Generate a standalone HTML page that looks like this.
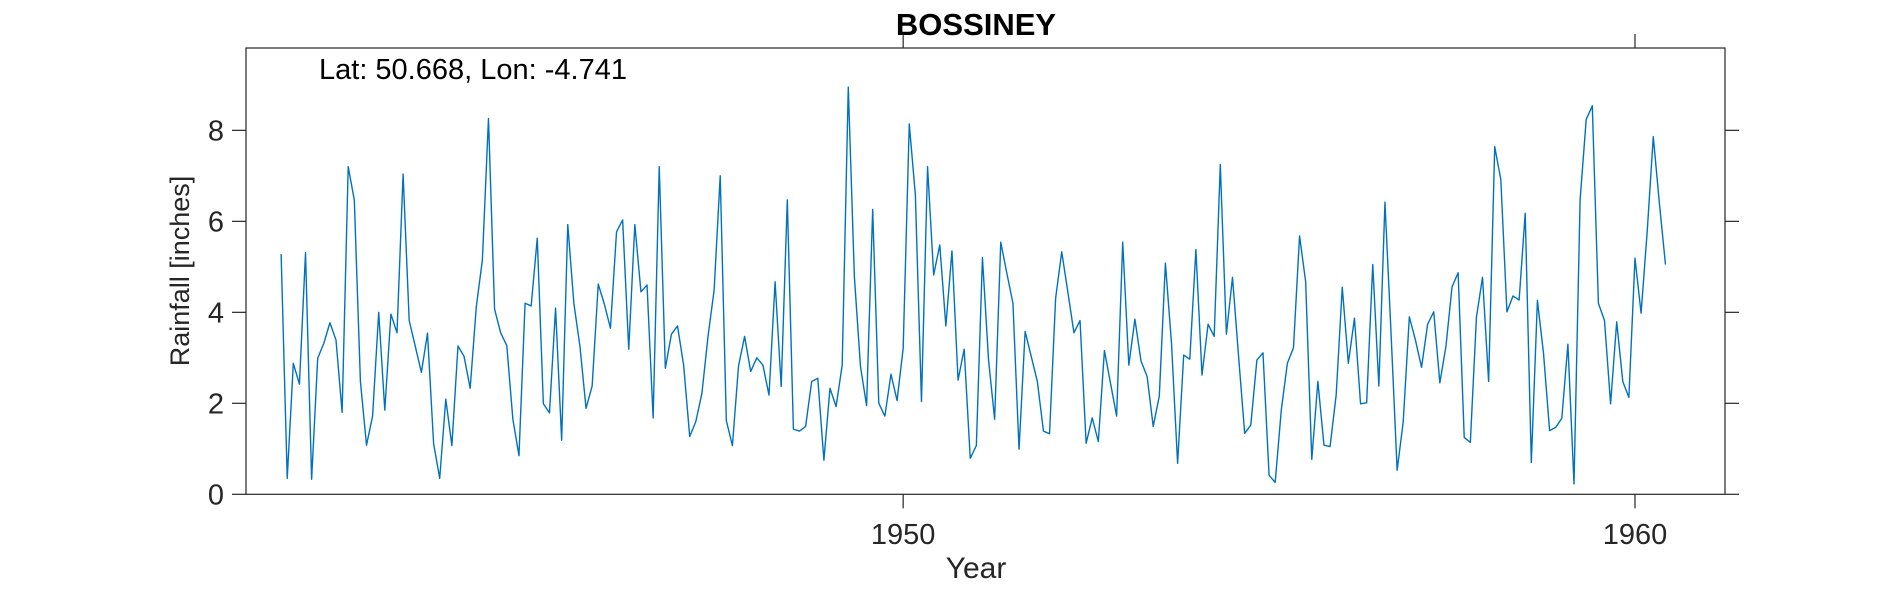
<!DOCTYPE html>
<html><head><meta charset="utf-8"><style>
html,body{margin:0;padding:0;background:#fff;}
svg{display:block;font-family:"Liberation Sans",Arial,sans-serif;}
</style></head><body>
<svg id="chart" width="1890" height="591" viewBox="0 0 1890 591" xmlns="http://www.w3.org/2000/svg">
<rect x="0" y="0" width="1890" height="591" fill="#fff"/>
<text x="976" y="35" text-anchor="middle" font-size="31" font-weight="bold" fill="#000">BOSSINEY</text>
<g id="axes"></g>
<path id="series" fill="none" stroke="#0072BD" stroke-width="1.4" stroke-linejoin="round"/>
<text x="319" y="79" font-size="29" fill="#000">Lat: 50.668, Lon: -4.741</text>
<text x="976" y="578" text-anchor="middle" font-size="30" fill="#262626">Year</text>
<text transform="translate(189,271) rotate(-90)" text-anchor="middle" font-size="27" fill="#262626">Rainfall [inches]</text>
</svg>
<script>
const startYear = 1941;
const startMonth = 7;
const rainfall = [
5.28,0.35,2.88,2.42,5.31,0.33,2.99,3.32,3.77,3.39,1.80,7.20,6.47,2.48,1.08,1.72,4.00,1.85,3.96,3.55,7.04,3.82,3.25,2.68,3.54,1.12,0.35,2.09,1.07,3.26,3.03,2.33,4.12,5.15,8.26,4.07,3.55,
3.27,1.65,0.85,4.20,4.14,5.63,1.99,1.79,4.09,1.19,5.93,4.20,3.25,1.89,2.38,4.62,4.18,3.65,5.77,6.03,3.19,5.93,4.45,4.60,1.68,7.20,2.77,3.52,3.70,2.84,1.27,1.60,2.22,3.47,4.49,7.00,1.62,
1.07,2.82,3.47,2.70,3.00,2.84,2.18,4.67,2.37,6.47,1.43,1.39,1.49,2.48,2.55,0.75,2.33,1.93,2.84,8.95,4.78,2.81,1.95,6.26,2.00,1.72,2.64,2.06,3.21,8.14,6.58,2.04,7.20,4.82,5.48,3.70,5.35,
2.51,3.19,0.79,1.07,5.20,2.95,1.65,5.54,4.86,4.20,0.99,3.58,3.03,2.48,1.39,1.33,4.31,5.33,4.45,3.55,3.82,1.12,1.68,1.16,3.16,2.44,1.72,5.54,2.84,3.85,2.93,2.59,1.49,2.16,5.08,3.32,0.68,
3.06,2.97,5.38,2.62,3.74,3.47,7.25,3.52,4.77,3.03,1.34,1.52,2.95,3.11,0.42,0.26,1.85,2.88,3.22,5.68,4.67,0.77,2.48,1.08,1.05,2.18,4.55,2.88,3.87,1.99,2.01,5.05,2.38,6.42,3.54,0.53,1.60,
3.90,3.39,2.79,3.74,4.01,2.45,3.25,4.56,4.87,1.25,1.14,3.89,4.77,2.48,7.64,6.92,4.01,4.36,4.27,6.18,0.70,4.26,3.10,1.40,1.47,1.67,3.30,0.23,6.47,8.24,8.54,4.20,3.82,1.99,3.79,2.48,2.13,5.19,3.98,5.77,7.86,6.40,5.05
];
const xTicks = [1950, 1960];
const yTicks = [0, 2, 4, 6, 8];

const L = 246, R = 1725, T = 48, B = 494.3;
const xMin = 1941.02, xMax = 1961.23, yMin = 0, yMax = 9.81;
function xs(v){ return L + (v - xMin) / (xMax - xMin) * (R - L); }
function ys(v){ return B - (v - yMin) / (yMax - yMin) * (B - T); }

const NS = 'http://www.w3.org/2000/svg';
const axes = document.getElementById('axes');
function mk(tag, attrs){ const e = document.createElementNS(NS, tag); for (const k in attrs) e.setAttribute(k, attrs[k]); return e; }

const box = mk('rect', {x:L, y:T, width:R-L, height:B-T, fill:'none', stroke:'#262626', 'stroke-width':1.2});


axes.appendChild(box);

xTicks.forEach(function(t){
  const x = xs(t);
  const tb = mk('line', {x1:x, y1:B, x2:x, y2:B+14, stroke:'#262626', 'stroke-width':1.2});
  
  
  axes.appendChild(tb);
  const tt = mk('line', {x1:x, y1:T, x2:x, y2:T-14, stroke:'#262626', 'stroke-width':1.2});
  
  
  axes.appendChild(tt);
  const lb = mk('text', {x:x, y:544, 'text-anchor':'middle', 'font-size':29, fill:'#262626'});
  lb.textContent = String(t);
  
  
  axes.appendChild(lb);
});
yTicks.forEach(function(t){
  const y = ys(t);
  const tl = mk('line', {x1:L-14, y1:y, x2:L, y2:y, stroke:'#262626', 'stroke-width':1.2});
  
  
  axes.appendChild(tl);
  const tr = mk('line', {x1:R, y1:y, x2:R+14, y2:y, stroke:'#262626', 'stroke-width':1.2});
  
  
  axes.appendChild(tr);
  const lb = mk('text', {x:224, y:y+10, 'text-anchor':'end', 'font-size':29, fill:'#262626'});
  lb.textContent = String(t);
  
  
  axes.appendChild(lb);
});

let d = '';
rainfall.forEach(function(v, i){
  const t = startYear + (startMonth - 1 + i) / 12;
  d += (i ? 'L' : 'M') + xs(t).toFixed(2) + ',' + ys(v).toFixed(2);
});
document.getElementById('series').setAttribute('d', d);
</script>
</body></html>
